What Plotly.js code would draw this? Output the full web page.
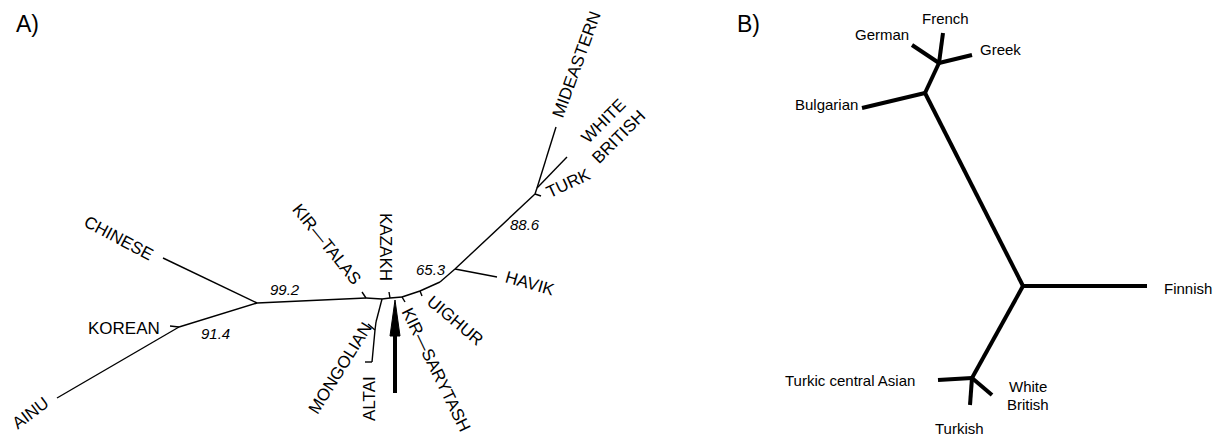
<!DOCTYPE html>
<html>
<head>
<meta charset="utf-8">
<script src="https://cdn.plot.ly/plotly-3.0.1.min.js"></script>
<style>html,body{margin:0;padding:0;background:#fff;}#chart{width:1221px;height:439px;}</style>
</head>
<body>
<div id="chart"></div>
<script>
// ---------- Panel A: tree nodes (figure units) ----------
const nodeA_names = ["ainuTip","koreanNode","koreanTip","eastNode","chineseTip","talasJ","talasTip","centralNode","mongBend","mongJ","mongTip","altaiEnd","altaiTip","kazakhJ","kazakhTip","sarytashJ","sarytashTip","uighurJ","uighurTip","mainBend","havikNode","havikTip","turkNode","turkTip","westNode","mideastTip","wbTip"];
const nodeA_x = [57,179,170,257,163,366,362,382,376,375,368,372,365,390,389,402,405,420,422,440,455,497,535,541,537,556,567];
const nodeA_y = [398,327,326,303,258,298,292,299,322,330,324,362,362,298,292,297,302,291,296,282,269,277,194,196,188,127,157];
const edgeA = [["ainuTip","koreanNode"],["koreanTip","koreanNode"],["koreanNode","eastNode"],["chineseTip","eastNode"],["eastNode","talasJ"],["talasJ","talasTip"],["talasJ","centralNode"],["centralNode","mongBend"],["mongBend","mongJ"],["mongJ","mongTip"],["mongJ","altaiEnd"],["altaiEnd","altaiTip"],["centralNode","kazakhJ"],["kazakhJ","kazakhTip"],["kazakhJ","sarytashJ"],["sarytashJ","sarytashTip"],["sarytashJ","uighurJ"],["uighurJ","uighurTip"],["uighurJ","mainBend"],["mainBend","havikNode"],["havikNode","havikTip"],["havikNode","turkNode"],["turkNode","turkTip"],["turkNode","westNode"],["westNode","mideastTip"],["westNode","wbTip"]];

const labelA_text = ["AINU","CHINESE","KOREAN","KIR—TALAS","KAZAKH","MONGOLIAN","ALTAI","KIR—SARYTASH","UIGHUR","HAVIK","TURK","MIDEASTERN","WHITE","BRITISH"];
const labelA_x = [30,119,124,327,386,340,369,436,455,530,568,576,603,618];
const labelA_y = [413,238,328,244,247,368,399,369,320,283,183,65,121,137];
const labelA_angle = [-37,28,0,51,90,-58,-90,64,40,16,-25,-70,-45,-45];

const bootstrap_text = ["91.4","99.2","65.3","88.6"];
const bootstrap_x = [215,285,431,525];
const bootstrap_y = [333,289,269,224];

// arrow marking KIR-SARYTASH
const arrowA_x = 395, arrowA_tail = 393, arrowA_head = 300;

// ---------- Panel B ----------
const nodeB_names = ["bulgTip","b1","b2","germanTip","frenchTip","greekTip","center","finnishTip","tNode","tcaTip","turkishTip","wbTip"];
const nodeB_x = [862,925,939,912,943,972,1023,1147,972,938,970,992];
const nodeB_y = [108,93,63,45,33,55,286,286,378,380,405,395];
const edgeB = [["bulgTip","b1"],["b1","b2"],["b2","germanTip"],["b2","frenchTip"],["b2","greekTip"],["b1","center"],["center","finnishTip"],["center","tNode"],["tNode","tcaTip"],["tNode","turkishTip"],["tNode","wbTip"]];

const labelB_text = ["German","French","Greek","Bulgarian","Finnish","Turkic central Asian","White","British","Turkish"];
const labelB_x = [882,945,1000,826,1188,850,1028,1028,959];
const labelB_y = [34,18,49,104,288,380,386,404,428];

const panel_text = ["A)","B)"];
const panel_x = [27,748];
const panel_y = [24,24];

// ---------- build ----------
function edgeTrace(names, xs, ys, edges, width){
  const idx = {}; names.forEach((n,i)=>idx[n]=i);
  const x=[], y=[];
  edges.forEach(e=>{ x.push(xs[idx[e[0]]], xs[idx[e[1]]], null); y.push(ys[idx[e[0]]], ys[idx[e[1]]], null); });
  return {type:'scatter', mode:'lines', x, y, line:{color:'#000', width, shape:'linear'}, hoverinfo:'skip', showlegend:false};
}

const traces = [
  edgeTrace(nodeA_names,nodeA_x,nodeA_y,edgeA,1.4),
  edgeTrace(nodeB_names,nodeB_x,nodeB_y,edgeB,4)
];
// arrow shaft
traces.push({type:'scatter',mode:'lines',x:[arrowA_x,arrowA_x],y:[arrowA_tail,arrowA_head+34],line:{color:'#000',width:4},hoverinfo:'skip',showlegend:false});
// arrow head
traces.push({type:'scatter',mode:'lines',x:[arrowA_x,arrowA_x-5,arrowA_x+5,arrowA_x],y:[arrowA_head,arrowA_head+36,arrowA_head+36,arrowA_head],fill:'toself',fillcolor:'#000',line:{color:'#000',width:1},hoverinfo:'skip',showlegend:false});

const fontA = {family:'"Liberation Sans", Arial, sans-serif', size:17, color:'#000'};
const fontNum = {family:'"Liberation Sans", Arial, sans-serif', size:15, color:'#000', style:'italic'};
const fontB = {family:'"Liberation Sans", Arial, sans-serif', size:15, color:'#000'};

const ann = [];
labelA_text.forEach((t,i)=>ann.push({x:labelA_x[i],y:labelA_y[i],xref:'x',yref:'y',text:t,showarrow:false,textangle:labelA_angle[i],font:fontA,xanchor:'center',yanchor:'middle'}));
bootstrap_text.forEach((t,i)=>ann.push({x:bootstrap_x[i],y:bootstrap_y[i],xref:'x',yref:'y',text:'<i>'+t+'</i>',showarrow:false,font:fontNum,xanchor:'center',yanchor:'middle'}));
labelB_text.forEach((t,i)=>ann.push({x:labelB_x[i],y:labelB_y[i],xref:'x',yref:'y',text:t,showarrow:false,font:fontB,xanchor:'center',yanchor:'middle'}));
panel_text.forEach((t,i)=>ann.push({x:panel_x[i],y:panel_y[i],xref:'x',yref:'y',text:t,showarrow:false,font:{family:'"Liberation Sans", Arial, sans-serif',size:23,color:'#000'},xanchor:'center',yanchor:'middle'}));

const layout = {
  width:1221, height:439,
  margin:{l:0,r:0,t:0,b:0},
  paper_bgcolor:'#fff', plot_bgcolor:'#fff',
  showlegend:false,
  xaxis:{range:[0,1221],visible:false,fixedrange:true},
  yaxis:{range:[439,0],visible:false,fixedrange:true},
  annotations:ann
};
Plotly.newPlot('chart',traces,layout,{staticPlot:true,displayModeBar:false});
</script>
</body>
</html>
